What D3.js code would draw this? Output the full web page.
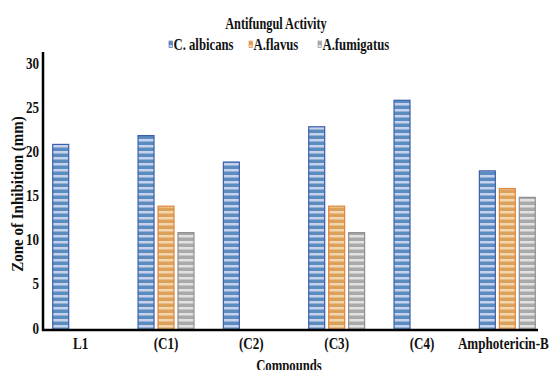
<!DOCTYPE html>
<html><head><meta charset="utf-8">
<script src="https://cdn.jsdelivr.net/npm/d3@7/dist/d3.min.js"></script>
<style>body{margin:0;background:#fff}svg{display:block}text{font-family:"Liberation Serif","Times New Roman",serif;font-weight:bold;fill:#111}</style>
</head><body><svg id="c" width="550" height="370"></svg>
<script>
const categories = ["L1","(C1)","(C2)","(C3)","(C4)","Amphotericin-B"];
const seriesNames = ["C. albicans","A.flavus","A.fumigatus"];
const albicans = [21,22,19,23,26,18];
const flavus = [null,14,null,14,null,16];
const fumigatus = [null,11,null,11,null,15];
const yTicks = [0,5,10,15,20,25,30];

const seriesValues = [albicans, flavus, fumigatus];
const colors = [
  {dark:"#5a8cc0", light:"#c9d2ec", stroke:"#3b5eab"},
  {dark:"#dca15a", light:"#f3d6ae", stroke:"#e2843a"},
  {dark:"#a9a9a9", light:"#e2e2e2", stroke:"#8f8f8f"}
];

const svg = d3.select("#c");
const defs = svg.append("defs");
colors.forEach((c,i)=>{
  const p = defs.append("pattern").attr("id","pat"+i).attr("patternUnits","userSpaceOnUse")
    .attr("width",10).attr("height",6);
  p.append("rect").attr("width",10).attr("height",6).attr("fill",c.dark);
  p.append("rect").attr("y",1).attr("width",10).attr("height",2.5).attr("fill",c.light);
});

// condensed text helper
function ctext(x, yy, str, size, anchor, sx, rot){
  const g = svg.append("g").attr("transform",`translate(${x},${yy})${rot?` rotate(${rot})`:""} scale(${sx},1)`);
  return g.append("text").attr("x",0).attr("y",0).attr("text-anchor",anchor).attr("font-size",size).text(str);
}
const SX = 0.77;

const x0 = d3.scaleBand().domain(categories).range([38,550]).paddingInner(0.333).paddingOuter(0.1667);
const x1 = d3.scaleBand().domain(d3.range(3)).range([0,x0.bandwidth()]).paddingInner(0.15);
const y = d3.scaleLinear().domain([0,30]).range([329.7,65]);

// bars
categories.forEach((cat,ci)=>{
  seriesValues.forEach((vals,si)=>{
    const v = vals[ci];
    if(v==null) return;
    svg.append("rect")
      .attr("x", x0(cat)+x1(si)+0.5)
      .attr("y", y(v))
      .attr("width", x1.bandwidth()-1)
      .attr("height", y(0)-y(v))
      .attr("fill","url(#pat"+si+")")
      .attr("stroke",colors[si].stroke).attr("stroke-width",1.2);
  });
});

// axes lines
svg.append("line").attr("x1",43).attr("x2",43).attr("y1",52).attr("y2",331).attr("stroke","#000").attr("stroke-width",2.5);
svg.append("line").attr("x1",42).attr("x2",538).attr("y1",330).attr("y2",330).attr("stroke","#000").attr("stroke-width",2.5);

// y tick labels
yTicks.forEach(t=>{
  ctext(39, y(t)-2+5.8, t, 17, "end", SX);
});

// x labels
categories.forEach((cat,i)=>{
  const cx = x0(cat)+x0.bandwidth()/2 - (i===5?4:0);
  ctext(cx, 349, cat, 17, "middle", SX);
});

// titles
ctext(276, 28.5, "Antifungul Activity", 16, "middle", SX);
ctext(289, 371, "Compounds", 16.5, "middle", SX);
ctext(23, 194, "Zone of Inhibition (mm)", 16, "middle", 0.94, -90).attr("fill","#2a2a2a");

// legend
const legX = [169, 249, 318];
seriesNames.forEach((n,i)=>{
  const g = svg.append("g").attr("transform",`translate(${legX[i]},44)`);
  g.append("rect").attr("x",0).attr("y",-3).attr("width",3.5).attr("height",6.5).attr("fill","url(#pat"+i+")").attr("stroke",colors[i].stroke).attr("stroke-width",0.6);
  const t = g.append("g").attr("transform","translate(4.5,5.8) scale(0.77,1)");
  t.append("text").attr("font-size",16.5).text(n);
});
</script></body></html>
